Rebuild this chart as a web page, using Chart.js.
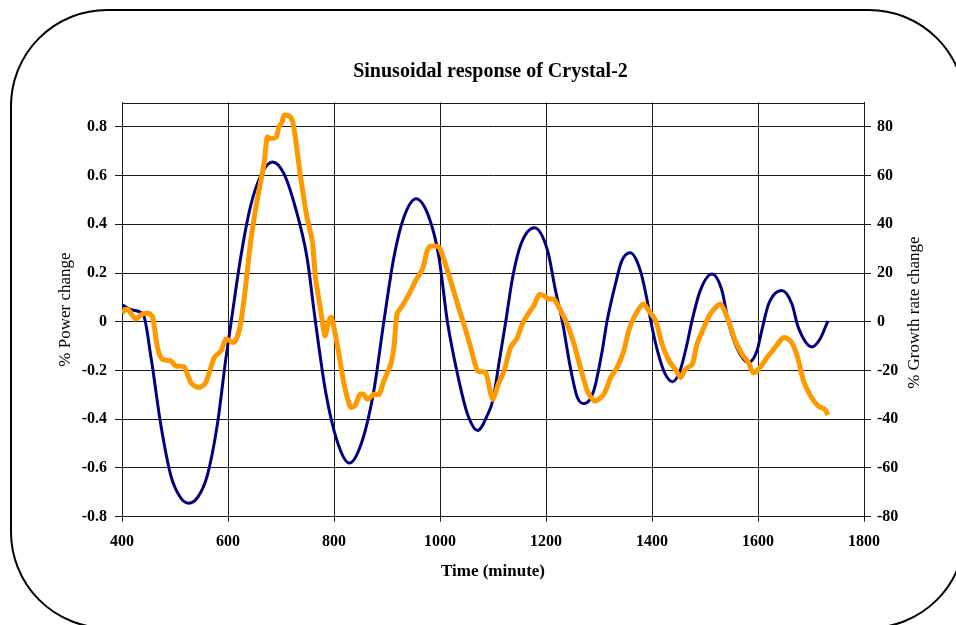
<!DOCTYPE html>
<html>
<head>
<meta charset="utf-8">
<script src="https://cdn.jsdelivr.net/npm/chart.js@4"></script>
<style>
    html, body { margin: 0; padding: 0; background: #fff; overflow: hidden; }
    #wrap { position: relative; width: 956px; height: 625px; overflow: hidden; }
    #moldura {
        position: absolute; left: 10px; top: 9px; width: 956px; height: 620px;
        box-sizing: border-box; border: 2px solid #000; border-radius: 97px;
    }
    #grafico { position: absolute; left: 0; top: 0; }
</style>
</head>
<body>
<div id="wrap">
    <div id="moldura"></div>
    <canvas id="grafico" width="956" height="625"></canvas>
</div>
<script>
// valores
const tempoPotencia = [400, 420, 440, 455, 473, 492, 510, 526, 543, 561, 580, 596, 606, 624, 642, 664, 684, 705, 727, 749,
    765, 784, 806, 829, 853, 875, 894, 913, 932, 955, 979, 998, 1014, 1033, 1052, 1071, 1090, 1100, 1112, 1124,
    1137, 1153, 1178, 1203, 1218, 1231, 1246, 1259, 1272, 1290, 1306, 1315, 1331, 1343, 1359, 1378, 1391, 1398,
    1412, 1425, 1439, 1453, 1466, 1475, 1491, 1513, 1532, 1544, 1560, 1582, 1598, 1607, 1620, 1645, 1664, 1676,
    1702, 1717, 1732];
const variacaoPotencia = [0.07, 0.048, 0.03, -0.15, -0.42, -0.63, -0.72, -0.745, -0.72, -0.63, -0.42, -0.15, 0.0, 0.265, 0.47, 0.61, 0.656, 0.61, 0.47, 0.265,
    0.0, -0.285, -0.49, -0.58, -0.49, -0.285, 0.0, 0.265, 0.43, 0.505, 0.43, 0.265, 0.0, -0.215, -0.38, -0.446, -0.38, -0.32, -0.16, 0.0,
    0.182, 0.32, 0.386, 0.292, 0.128, 0.0, -0.188, -0.31, -0.336, -0.284, -0.12, 0.0, 0.155, 0.25, 0.283, 0.21, 0.086, 0.0,
    -0.133, -0.215, -0.246, -0.2, -0.092, 0.0, 0.128, 0.196, 0.128, 0.0, -0.106, -0.167, -0.12, -0.037, 0.073, 0.128, 0.073, -0.023,
    -0.103, -0.071, 0.004];

const tempoCrescimento = [400, 410, 426, 436, 451, 458, 467, 476, 492, 501, 517, 530, 545, 558, 574, 587, 596, 611, 621, 630,
    643, 655, 668, 674, 680, 691, 696, 702, 706, 718, 724, 737, 749, 759, 765, 775, 783, 790, 795, 806,
    819, 831, 839, 849, 856, 863, 875, 885, 894, 907, 913, 919, 929, 945, 954, 967, 976, 982, 998, 1008,
    1020, 1033, 1045, 1058, 1071, 1086, 1099, 1111, 1121, 1133, 1146, 1155, 1168, 1177, 1187, 1196, 1205, 1215, 1228, 1240,
    1253, 1265, 1278, 1292, 1309, 1322, 1334, 1347, 1356, 1366, 1383, 1394, 1407, 1419, 1432, 1444, 1454, 1463, 1476, 1485,
    1498, 1510, 1529, 1542, 1557, 1570, 1582, 1591, 1601, 1617, 1632, 1648, 1661, 1673, 1686, 1701, 1714, 1726, 1732];
const variacaoCrescimento = [3.8, 5.2, 1.1, 2.9, 3.4, 1.8, -10.6, -15.4, -16, -18.1, -18.5, -25, -27, -25, -14.7, -11.9, -7.1, -8.5, -3.7, 8.6,
    33.3, 49.8, 64.9, 75.8, 75.2, 75.8, 80, 82, 84.8, 84, 80, 59.4, 42.9, 33.3, 18.2, 4.5, -5.8, 0.4, 1.8, -9.2,
    -25.6, -35, -34.6, -29.8, -29.8, -31.8, -29.8, -29.8, -24.3, -17.4, -10.6, 3.2, 6.6, 12.8, 16.9, 21.7, 29.2, 31, 30.6, 25.1,
    16.9, 7.3, -0.9, -10.6, -20.2, -20.8, -31.8, -25, -20.2, -10.6, -6.5, -1, 3.8, 6.6, 11.1, 10.7, 9.3, 9.3, 4.5, -1,
    -9.2, -18.8, -28.4, -32.5, -29.8, -22.9, -18.8, -11.9, -3.7, 1.8, 7.3, 4.5, 0.4, -9.2, -16, -19.5, -22.9, -19.5, -17.4, -9.2,
    -2.3, 3.2, 7.3, 1.8, -7.8, -13.3, -16.7, -20.9, -19.5, -14.7, -10.6, -6.5, -7.8, -13.3, -24.3, -31.1, -34.6, -35.9, -38.3];

const ticksTempo = [400, 600, 800, 1000, 1200, 1400, 1600, 1800];
const ticksPotencia = [-0.8, -0.6, -0.4, -0.2, 0, 0.2, 0.4, 0.6, 0.8];
const ticksCrescimento = [-80, -60, -40, -20, 0, 20, 40, 60, 80];

const fonte = '"Liberation Serif", "Times New Roman", serif';
const corGrade = '#1a1a1a';

// borda de cima da area do grafico + titulo do eixo direito (lido de baixo para cima)
const extras = {
    id: 'extras',
    afterDraw(chart) {
        const { ctx, chartArea } = chart;
        ctx.save();
        ctx.strokeStyle = corGrade;
        ctx.lineWidth = 1;
        ctx.beginPath();
        ctx.moveTo(chartArea.left, Math.round(chartArea.top) + 0.5);
        ctx.lineTo(chartArea.right, Math.round(chartArea.top) + 0.5);
        ctx.stroke();

        ctx.translate(915, (chartArea.top + chartArea.bottom) / 2 + 3);
        ctx.rotate(-Math.PI / 2);
        ctx.fillStyle = '#000';
        ctx.font = '17px ' + fonte;
        ctx.textAlign = 'center';
        ctx.textBaseline = 'middle';
        ctx.fillText('% Growth rate change', 0, 0);
        ctx.restore();
    }
};

function montarPontos(xs, ys) {
    return xs.map((x, i) => ({ x: x, y: ys[i] }));
}

new Chart(document.getElementById('grafico').getContext('2d'), {
    type: 'line',
    data: {
        datasets: [
            {
                label: '% Power change',
                data: montarPontos(tempoPotencia, variacaoPotencia),
                borderColor: '#000080',
                borderWidth: 3,
                pointRadius: 0,
                cubicInterpolationMode: 'monotone',
                yAxisID: 'y',
                order: 2
            },
            {
                label: '% Growth rate change',
                data: montarPontos(tempoCrescimento, variacaoCrescimento),
                borderColor: '#FF9900',
                borderWidth: 5,
                pointRadius: 0,
                tension: 0.25,
                yAxisID: 'y2',
                order: 1
            }
        ]
    },
    options: {
        responsive: false,
        animation: false,
        layout: { padding: { left: 45, right: 20, top: 0, bottom: 20 } },
        plugins: {
            legend: { display: false },
            tooltip: { enabled: false },
            title: {
                display: true,
                text: 'Sinusoidal response of Crystal-2',
                color: '#000',
                font: { family: fonte, size: 20, weight: 'bold' },
                padding: { top: 60, bottom: 18.5 }
            }
        },
        scales: {
            x: {
                type: 'linear',
                min: 400,
                max: 1800,
                afterBuildTicks: s => { s.ticks = ticksTempo.map(v => ({ value: v })); },
                afterFit: s => { s.height = 88.3; },
                ticks: { color: '#000', font: { family: fonte, size: 16, weight: 'bold' }, padding: 11, maxRotation: 0, callback: v => String(v) },
                grid: { color: corGrade, tickLength: 5 },
                border: { color: corGrade },
                title: {
                    display: true,
                    text: 'Time (minute)',
                    color: '#000',
                    font: { family: fonte, size: 17, weight: 'bold' },
                    padding: { top: 0, bottom: 22.8 }
                }
            },
            y: {
                position: 'left',
                min: -0.8,
                max: 0.9,
                afterBuildTicks: s => { s.ticks = ticksPotencia.map(v => ({ value: v })); },
                afterFit: s => { s.width = 77; },
                ticks: { color: '#000', font: { family: fonte, size: 16, weight: 'bold' }, padding: 8, callback: v => String(v) },
                grid: { color: corGrade, tickLength: 7 },
                border: { color: corGrade },
                title: {
                    display: true,
                    text: '% Power change',
                    color: '#000',
                    font: { family: fonte, size: 17 },
                    padding: { top: 10, bottom: 0 }
                }
            },
            y2: {
                position: 'right',
                min: -80,
                max: 90,
                afterBuildTicks: s => { s.ticks = ticksCrescimento.map(v => ({ value: v })); },
                afterFit: s => { s.width = 72; },
                ticks: { color: '#000', font: { family: fonte, size: 16, weight: 'bold' }, padding: 6, callback: v => String(v) },
                grid: { color: corGrade, tickLength: 7, drawOnChartArea: false },
                border: { color: corGrade }
            }
        }
    },
    plugins: [extras]
});
</script>
</body>
</html>
